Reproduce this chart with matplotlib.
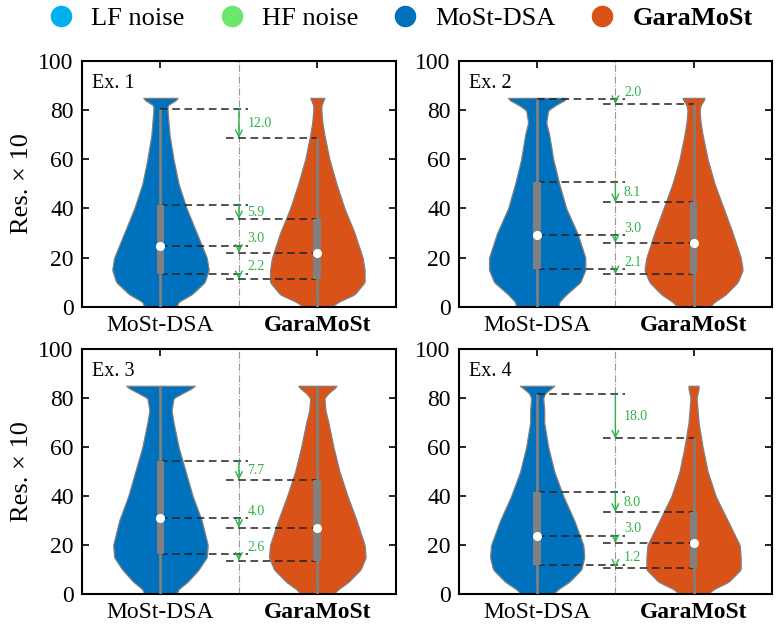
import numpy as np
import matplotlib
matplotlib.use('Agg')
import matplotlib.pyplot as plt
from matplotlib.lines import Line2D

plt.rcParams['font.family'] = ['Liberation Serif', 'DejaVu Serif']

# ---- data ----
methods = ['MoSt-DSA', 'GaraMoSt']
examples = ['Ex. 1', 'Ex. 2', 'Ex. 3', 'Ex. 4']

# violin profile: half width (arbitrary density units) at these levels
levels = [0, 2, 5, 10, 15, 20, 30, 40, 50, 60, 70, 75, 80, 82, 84, 85]
dens_most = [
    [16, 18, 31, 44, 48, 46, 36, 26, 18, 13, 9, 8, 7, 7, 15, 17],
    [21, 22, 29, 43, 48, 48, 40, 29, 22, 16, 12, 9, 11, 18, 27, 29],
    [16, 18, 27, 38, 46, 47, 41, 32, 25, 18, 13, 11, 13, 22, 31, 34],
    [16, 21, 32, 44, 47, 46, 37, 26, 17, 11, 7, 7, 6, 8, 14, 17],
]
dens_gara = [
    [14, 21, 37, 47, 47, 45, 37, 27, 19, 12, 7, 5, 4, 4, 6, 7],
    [16, 21, 32, 44, 49, 47, 39, 30, 21, 14, 9, 7, 6, 7, 10, 11],
    [16, 21, 31, 43, 48, 47, 39, 30, 22, 16, 11, 8, 7, 11, 17, 19],
    [14, 20, 35, 47, 47, 46, 34, 22, 14, 9, 5, 4, 3, 4, 5, 5],
]

# box statistics [upper whisker, q3, median, q1]
stats_most = [
    [80.6, 41.5, 24.9, 13.4],
    [84.5, 50.6, 29.0, 15.3],
    [85.0, 54.3, 31.0, 16.2],
    [81.5, 41.5, 23.8, 12.0],
]
stats_gara = [
    [68.6, 35.6, 21.9, 11.2],
    [82.5, 42.5, 26.0, 13.2],
    [85.0, 46.6, 27.0, 13.6],
    [63.5, 33.5, 20.8, 10.8],
]
diff_labels = [
    ['12.0', '5.9', '3.0', '2.2'],
    ['2.0', '8.1', '3.0', '2.1'],
    [None, '7.7', '4.0', '2.6'],
    ['18.0', '8.0', '3.0', '1.2'],
]

legend_names = ['LF noise', 'HF noise', 'MoSt-DSA', 'GaraMoSt']
legend_colors = ['#00B0F0', '#6BE86B', '#0072BD', '#D95319']

c_most = '#0072BD'
c_gara = '#D95319'
c_green = '#2DB34A'
c_gray = '#808080'

px_per_unit = 156.0


def violin_profile(dens):
    yy = np.arange(0, 85.01, 0.25)
    raw = np.interp(yy, levels, dens)
    k = 5
    pad = np.pad(raw, k // 2, mode='edge')
    w = np.convolve(pad, np.ones(k) / k, mode='valid')
    # keep the flat cap at the top sharp
    top = yy >= 84
    w[top] = np.maximum(w[top], raw[top])
    return yy, w / px_per_unit


def draw_violin(ax, x0, dens, color):
    yy, w = violin_profile(dens)
    ax.fill_betweenx(yy, x0 - w, x0 + w, facecolor=color, edgecolor=c_gray,
                     linewidth=0.9, zorder=1)


def draw_box(ax, x0, st):
    top, q3, med, q1 = st
    ax.plot([x0, x0], [0, top], color=c_gray, lw=2.0, zorder=3, solid_capstyle='butt')
    ax.bar(x0, q3 - q1, bottom=q1, width=0.05, color=c_gray, zorder=3)
    ax.plot(x0, med, 'o', ms=5.5, mfc='white', mec='white', zorder=4)


fig = plt.figure(figsize=(7.76, 6.28), dpi=100)
ax_pos = [
    [0.1057, 0.5116, 0.4043, 0.3912],
    [0.5915, 0.5116, 0.4030, 0.3912],
    [0.1057, 0.0541, 0.4043, 0.3901],
    [0.5915, 0.0541, 0.4030, 0.3901],
]

for i in range(4):
    ax = fig.add_axes(ax_pos[i])
    ax.set_xlim(0.5, 2.5)
    ax.set_ylim(0, 100)
    ax.axvline(1.5, color='#999999', ls='-.', lw=0.8, zorder=0)

    draw_violin(ax, 1, dens_most[i], c_most)
    draw_violin(ax, 2, dens_gara[i], c_gara)
    draw_box(ax, 1, stats_most[i])
    draw_box(ax, 2, stats_gara[i])

    for j in range(4):
        lab = diff_labels[i][j]
        if lab is None:
            continue
        a = stats_most[i][j]
        b = stats_gara[i][j]
        ax.plot([1.0, 1.56], [a, a], color='#222222', ls=(0, (5, 3)), lw=1.1, zorder=2)
        ax.plot([1.42, 2.0], [b, b], color='#222222', ls=(0, (5, 3)), lw=1.1, zorder=2)
        ax.annotate('', xy=(1.5, b), xytext=(1.5, a),
                    arrowprops=dict(arrowstyle='->', color=c_green, lw=1.0,
                                    shrinkA=0, shrinkB=0, mutation_scale=12),
                    zorder=5)
        ty = (a + b) / 2 if a - b >= 5 else a + 2.8
        ax.text(1.555, ty, lab, color=c_green, fontsize=10, va='center', ha='left')

    ax.text(0.032, 0.891, examples[i], transform=ax.transAxes, fontsize=14.5,
            va='baseline', ha='left')

    ax.set_xticks([1, 2])
    ax.set_xticklabels(methods)
    ax.get_xticklabels()[1].set_fontweight('bold')
    ax.set_yticks(range(0, 101, 20))
    ax.tick_params(direction='in', top=True, right=True, labelsize=17,
                   length=5, width=1.2, pad=6)
    for s in ax.spines.values():
        s.set_linewidth(1.5)
    if i % 2 == 0:
        ax.set_ylabel('Res. × 10', fontsize=19, labelpad=4)

handles = [Line2D([], [], ls='none', marker='o', ms=14.5, mfc=c, mec=c) for c in legend_colors]
leg = fig.legend(handles, legend_names, loc='center', bbox_to_anchor=(0.516, 0.971),
                 ncol=4, frameon=False, fontsize=19, handletextpad=0.64,
                 columnspacing=1.28, handlelength=1.0)
leg.get_texts()[3].set_fontweight('bold')

fig.savefig('out.png', dpi=100)
